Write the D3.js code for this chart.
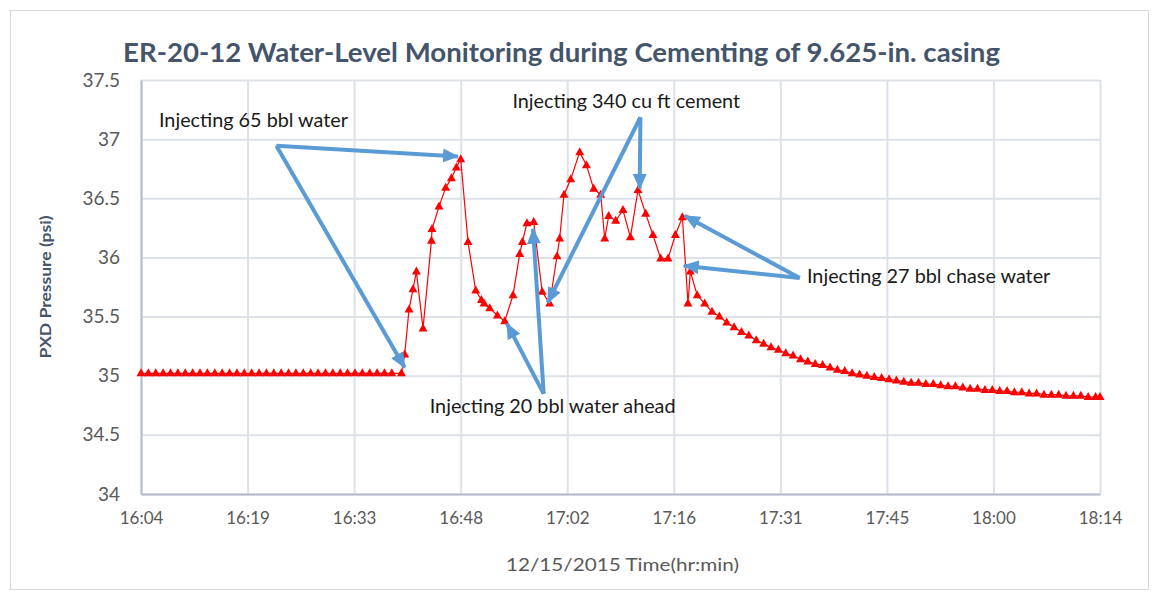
<!DOCTYPE html>
<html>
<head>
<meta charset="utf-8">
<script src="https://cdn.jsdelivr.net/npm/d3@7"></script>
<style>
  body { margin: 0; background: #fff; }
  svg { display: block; font-family: Lato, "Noto Sans", sans-serif; }
</style>
</head>
<body>
<div id="chart"></div>
<script>
const width = 1156
const height = 596
const margin = { left: 141, right: 56, top: 80, bottom: 102 }

// minutes after 16:04 and PXD pressure (psi)
const timeMin = [
  0, 1, 2, 3, 4, 5, 6, 7, 8, 9, 10, 11, 12, 13, 14, 15, 16, 17, 18, 19,
  20, 21, 22, 23, 24, 25, 26, 27, 28, 29, 30, 31, 32, 33, 34, 35.3,
  35.75, 36.33, 36.87, 37.33, 38.23, 39.37, 39.45, 40.4, 41.3, 42.08, 42.75, 43.34,
  44.33, 45.37, 46.14, 46.5, 47.27, 48.31, 49.3, 50.43, 51.33, 51.7, 52.32, 53.23,
  54.38, 55.4, 56.39, 56.75, 57.34, 58.25, 59.47, 60.38, 61.37, 62.32, 62.86, 63.4,
  64.35, 65.34, 66.34, 67.37, 68.41, 69.4, 70.45, 71.44, 72.44, 73.39, 74.15, 74.47,
  75.4, 76.41,
  77.4, 78.4, 79.4, 80.4, 81.4, 82.4, 83.4, 84.4, 85.4, 86.4, 87.4, 88.4, 89.4, 90.4,
  91.4, 92.4, 93.4, 94.4, 95.4, 96.4, 97.4, 98.4, 99.4, 100.4, 101.4, 102.4, 103.4,
  104.4, 105.4, 106.4, 107.4, 108.4, 109.4, 110.4, 111.4, 112.4, 113.4, 114.4, 115.4,
  116.4, 117.4, 118.4, 119.4, 120.4, 121.4, 122.4, 123.4, 124.4, 125.4, 126.4, 127.4,
  128.4, 129.4, 130
]
const psi = [
  35.02, 35.02, 35.02, 35.02, 35.02, 35.02, 35.02, 35.02, 35.02, 35.02, 35.02, 35.02,
  35.02, 35.02, 35.02, 35.02, 35.02, 35.02, 35.02, 35.02, 35.02, 35.02, 35.02, 35.02,
  35.02, 35.02, 35.02, 35.02, 35.02, 35.02, 35.02, 35.02, 35.02, 35.02, 35.02, 35.02,
  35.18, 35.56, 35.73, 35.88, 35.40, 36.14, 36.24, 36.43, 36.59, 36.67, 36.76, 36.83,
  36.13, 35.72, 35.64, 35.61, 35.57, 35.51, 35.46, 35.68, 36.03, 36.13, 36.29, 36.30,
  35.71, 35.61, 36.01, 36.16, 36.53, 36.66, 36.89, 36.78, 36.58, 36.53, 36.16, 36.35,
  36.31, 36.40, 36.17, 36.57, 36.37, 36.19, 35.99, 35.99, 36.19, 36.34, 35.61, 35.88,
  35.68, 35.61,
  35.54, 35.50, 35.45, 35.41, 35.37, 35.34, 35.30, 35.27, 35.24, 35.22, 35.19, 35.17,
  35.14, 35.12, 35.10, 35.09, 35.07, 35.05, 35.04, 35.02, 35.01, 35.00, 34.99, 34.98,
  34.97, 34.96, 34.95, 34.94, 34.94, 34.93, 34.93, 34.92, 34.91, 34.91, 34.90, 34.89,
  34.89, 34.88, 34.88, 34.87, 34.87, 34.86, 34.86, 34.85, 34.85, 34.84, 34.84, 34.84,
  34.83, 34.83, 34.83, 34.82, 34.82, 34.82
]

const xTickLabels = ['16:04', '16:19', '16:33', '16:48', '17:02', '17:16', '17:31', '17:45', '18:00', '18:14']
const yTicks = [34, 34.5, 35, 35.5, 36, 36.5, 37, 37.5]
const yTickLabels = ['34', '34.5', '35', '35.5', '36', '36.5', '37', '37.5']

// annotations: label anchor and arrows, in (minute, psi)
const notes = [
  { text: 'Injecting 65 bbl water', at: [2.44, 37.106],
    from: [18.35, 36.945], to: [[42.97, 36.854], [35.75, 35.068]] },
  { text: 'Injecting 340 cu ft cement', at: [50.35, 37.261],
    from: [67.7, 37.185], to: [[67.6, 36.58], [55.13, 35.617]] },
  { text: 'Injecting 27 bbl chase water', at: [90.28, 35.783],
    from: [89.29, 35.826], to: [[73.7, 36.352], [73.57, 35.93]] },
  { text: 'Injecting 20 bbl water ahead', at: [39.14, 34.686],
    from: [54.59, 34.846], to: [[49.61, 35.44], [53.14, 36.242]] }
]

const data = timeMin.map((t, i) => ({ t: t, v: psi[i] }))

const x = d3.scaleLinear().domain([0, 130]).range([margin.left, width - margin.right])
const y = d3.scaleLinear().domain([34, 37.5]).range([height - margin.bottom, margin.top])
const xTicks = xTickLabels.map((d, i) => i * 130 / (xTickLabels.length - 1))

const svg = d3.select('#chart').append('svg')
  .attr('width', width)
  .attr('height', height)

// outer frame
svg.append('rect')
  .attr('x', 10.5).attr('y', 10.5)
  .attr('width', 1138).attr('height', 579)
  .attr('fill', 'none')
  .attr('stroke', '#d9d9d9')

svg.append('defs').append('marker')
  .attr('id', 'head')
  .attr('markerUnits', 'userSpaceOnUse')
  .attr('viewBox', '0 0 16 14')
  .attr('refX', 15).attr('refY', 7)
  .attr('markerWidth', 16).attr('markerHeight', 14)
  .attr('orient', 'auto')
  .append('path')
  .attr('d', 'M0,0 L16,7 L0,14 Z')
  .attr('fill', '#5b9bd5')

// grid
svg.append('g')
  .attr('transform', `translate(0,${height - margin.bottom})`)
  .call(d3.axisBottom(x).tickValues(xTicks).tickSize(-(height - margin.bottom - margin.top)).tickFormat(''))
  .call(g => g.select('.domain').remove())
  .selectAll('line').attr('stroke', '#dde1e8').attr('stroke-width', 2)

svg.append('g')
  .attr('transform', `translate(${margin.left},0)`)
  .call(d3.axisLeft(y).tickValues(yTicks).tickSize(-(width - margin.left - margin.right)).tickFormat(''))
  .call(g => g.select('.domain').remove())
  .selectAll('line').attr('stroke', '#dde1e8').attr('stroke-width', 2)

// axis lines + labels
svg.append('g')
  .attr('transform', `translate(0,${height - margin.bottom})`)
  .call(d3.axisBottom(x).tickValues(xTicks).tickSize(0).tickPadding(18)
    .tickFormat((d, i) => xTickLabels[i]))
  .call(g => g.select('.domain').attr('stroke', '#b4bccb').attr('stroke-width', 2))
  .selectAll('text')
  .attr('fill', '#595959')
  .style('font-size', '17px')
  .style('font-family', 'Lato, sans-serif')

svg.append('g')
  .attr('transform', `translate(${margin.left},0)`)
  .call(d3.axisLeft(y).tickValues(yTicks).tickSize(0).tickPadding(21)
    .tickFormat((d, i) => yTickLabels[i]))
  .call(g => g.select('.domain').attr('stroke', '#b4bccb').attr('stroke-width', 2))
  .selectAll('text')
  .attr('fill', '#595959')
  .style('font-size', '19px')
  .style('font-family', 'Lato, sans-serif')

// series
svg.append('path')
  .datum(data)
  .attr('fill', 'none')
  .attr('stroke', '#ff0000')
  .attr('stroke-width', 1.2)
  .attr('d', d3.line().x(d => x(d.t)).y(d => y(d.v)))

svg.append('g')
  .selectAll('path')
  .data(data)
  .join('path')
  .attr('transform', d => `translate(${x(d.t)},${y(d.v)})`)
  .attr('d', 'M0,-5 L4.5,3 L-4.5,3 Z')
  .attr('fill', '#ff0000')

// arrows
notes.forEach(n => {
  n.to.forEach(t => {
    svg.append('line')
      .attr('x1', x(n.from[0])).attr('y1', y(n.from[1]))
      .attr('x2', x(t[0])).attr('y2', y(t[1]))
      .attr('stroke', '#5b9bd5')
      .attr('stroke-width', 4)
      .attr('marker-end', 'url(#head)')
  })
})

svg.append('g')
  .selectAll('text')
  .data(notes)
  .join('text')
  .attr('x', d => x(d.at[0]))
  .attr('y', d => y(d.at[1]))
  .attr('fill', '#1a1a1a')
  .style('font-size', '19.8px')
  .text(d => d.text)

// titles
svg.append('text')
  .attr('x', 123).attr('y', 62)
  .attr('textLength', 877)
  .attr('lengthAdjust', 'spacingAndGlyphs')
  .attr('fill', '#44546a')
  .style('font-size', '27px')
  .style('font-weight', 'bold')
  .text('ER-20-12 Water-Level Monitoring during Cementing of 9.625-in. casing')

svg.append('text')
  .attr('transform', `translate(51,${(margin.top + height - margin.bottom) / 2}) rotate(-90)`)
  .attr('text-anchor', 'middle')
  .attr('textLength', 143)
  .attr('lengthAdjust', 'spacingAndGlyphs')
  .attr('fill', '#44546a')
  .style('font-size', '16px')
  .style('font-weight', 'bold')
  .text('PXD Pressure (psi)')

svg.append('text')
  .attr('x', 506).attr('y', 571)
  .attr('textLength', 233)
  .attr('lengthAdjust', 'spacingAndGlyphs')
  .attr('fill', '#595959')
  .style('font-size', '18px')
  .text('12/15/2015  Time(hr:min)')
</script>
</body>
</html>
